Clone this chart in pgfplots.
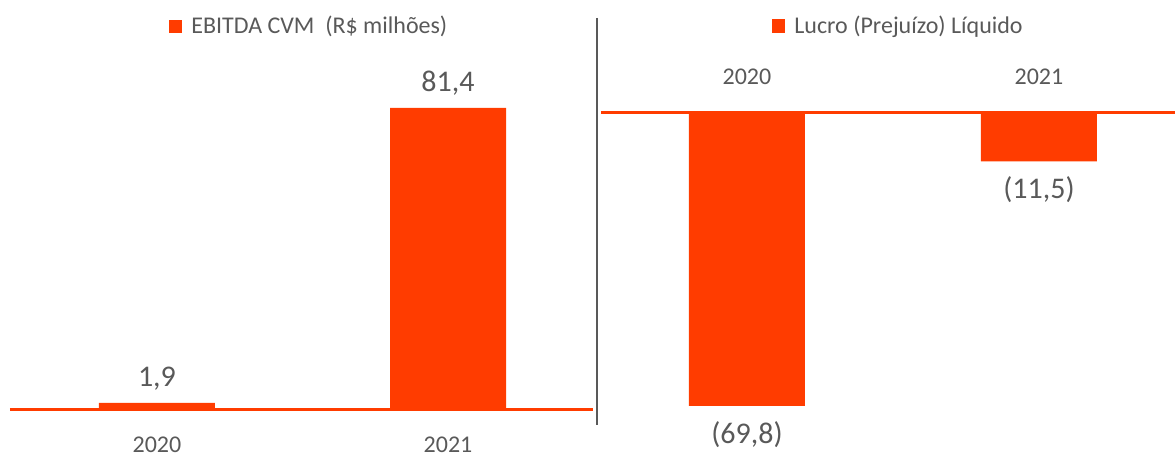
\documentclass[border=0pt]{standalone}
\usepackage{fontspec}
\setmainfont{Carlito}
\usepackage{pgfplots}
\pgfplotsset{compat=1.18}
\definecolor{barorange}{HTML}{FF3C00}
\definecolor{txtgray}{HTML}{595959}

\pgfplotsset{
  panel/.style={
    scale only axis,
    anchor=south west,
    axis y line=none,
    ybar, bar width=58pt, bar shift=0pt,
    xtick=data, xticklabels={2020,2021},
    xtick style={draw=none},
    x axis line style={barorange, line width=1.5pt, -},
    ticklabel style={font=\fontsize{12}{14}\selectfont, text=txtgray, inner ysep=0.5pt},
    /pgf/number format/assume math mode=true,
    point meta=explicit symbolic,
    nodes near coords,
    every node near coord/.append style={font=\fontsize{15}{18}\selectfont, text=txtgray},
    legend style={draw=none, fill=none, font=\fontsize{12}{14}\selectfont, text=txtgray,
      legend cell align=left, inner sep=0pt},
    legend image code/.code={\fill[barorange] (0pt,-3.3pt) rectangle (6.6pt,3.3pt);},
    clip=false,
  }
}

\begin{document}
\begin{tikzpicture}
\useasboundingbox (0,0) rectangle (587.5pt,227.5pt);

% EBITDA
\begin{axis}[panel,
  at={(5pt,22.5pt)},
  width=291.5pt, height=151pt,
  xmin=-0.505, xmax=1.498,
  ymin=0, ymax=81.4,
  axis x line*=bottom,
  xticklabel style={yshift=-8.5pt},
  every node near coord/.append style={anchor=south, yshift=3pt},
  legend style={at={(rel axis cs:0.515,1.27)}, anchor=center},
]
\addplot[fill=barorange, draw=none] coordinates {(0,1.9) [1,9] (1,81.4) [81,4]};
\addlegendentry{\hspace{2.5pt}EBITDA CVM\ \ (R\$ milhões)}
\end{axis}

% Lucro
\begin{axis}[panel,
  at={(300.5pt,24.5pt)},
  width=287pt, height=146.5pt,
  xmin=-0.5, xmax=1.466,
  ymin=-69.8, ymax=0,
  axis x line*=top,
  xticklabel style={yshift=9pt},
  every node near coord/.append style={anchor=north, yshift=-4pt},
  legend style={at={(rel axis cs:0.52,1.297)}, anchor=center},
]
\addplot[fill=barorange, draw=none] coordinates {(0,-69.8) [{(69,8)}] (1,-11.5) [{(11,5)}]};
\addlegendentry{\hspace{2.5pt}Lucro (Prejuízo) Líquido}
\end{axis}

\draw[txtgray, line width=1pt] (298.5pt,218.5pt) -- (298.5pt,15pt);
\end{tikzpicture}
\end{document}
